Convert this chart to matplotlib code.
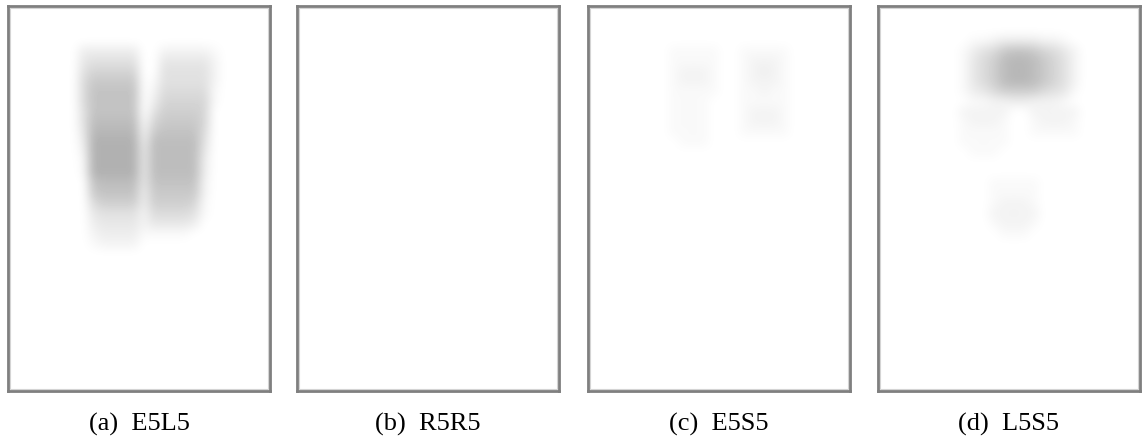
import numpy as np
import matplotlib.pyplot as plt
from matplotlib.patches import Rectangle

# Laws texture energy maps, one hex digit per block (0 = no energy, f = max)
# only the upper 26 block rows carry any energy, the rest of each panel is blank
E5L5 = [
    "00000000000000000000000000",
    "00000000000000000000000000",
    "00000000000000000000000000",
    "00000000000000000000000000",
    "0000000" + "333333" + "0" + "0222221" + "00000",
    "0000000" + "455555" + "0" + "0444442" + "00000",
    "0000000" + "577777" + "0" + "0555552" + "00000",
    "0000000" + "699999" + "0" + "1555552" + "00000",
    "0000000" + "6aaaaa" + "0" + "2666661" + "00000",
    "0000000" + "6aaaaa" + "0" + "3777771" + "00000",
    "0000000" + "5aaaaa" + "0" + "5888870" + "00000",
    "0000000" + "5bbbbb" + "1" + "7999970" + "00000",
    "0000000" + "4ccccc" + "2" + "9aaaa60" + "00000",
    "0000000" + "3ddddd" + "3" + "bbbbb50" + "00000",
    "0000000" + "2ddddd" + "4" + "bbbbb40" + "00000",
    "0000000" + "1ddddd" + "4" + "bbbbb30" + "00000",
    "0000000" + "1ddddd" + "4" + "bbbbb30" + "00000",
    "0000000" + "0abbbb" + "4" + "aaaaa20" + "00000",
    "0000000" + "09aaaa" + "3" + "9999920" + "00000",
    "0000000" + "068888" + "3" + "8888710" + "00000",
    "0000000" + "045555" + "2" + "6666510" + "00000",
    "0000000" + "034444" + "2" + "4444300" + "00000",
    "0000000" + "023333" + "1" + "1111000" + "00000",
    "0000000" + "012222" + "0" + "0000000" + "00000",
    "00000000000000000000000000",
    "00000000000000000000000000",
]

R5R5 = ["0" * 26 for _ in range(26)]

E5S5 = [
    "00000000000000000000000000",
    "00000000000000000000000000",
    "00000000000000000000000000",
    "00000000000000000000000000",
    "00000000" + "111110011111" + "000000",
    "00000000" + "111110012221" + "000000",
    "00000000" + "122210012321" + "000000",
    "00000000" + "122210012221" + "000000",
    "00000000" + "111110011211" + "000000",
    "00000000" + "111100011111" + "000000",
    "00000000" + "111100012221" + "000000",
    "00000000" + "111100012221" + "000000",
    "00000000" + "111100011111" + "000000",
    "00000000" + "011100000000" + "000000",
    "00000000000000000000000000",
    "00000000000000000000000000",
    "00000000000000000000000000",
    "00000000000000000000000000",
    "00000000000000000000000000",
    "00000000000000000000000000",
    "00000000000000000000000000",
    "00000000000000000000000000",
    "00000000000000000000000000",
    "00000000000000000000000000",
    "00000000000000000000000000",
    "00000000000000000000000000",
]

L5S5 = [
    "00000000000000000000000000",
    "00000000000000000000000000",
    "00000000000000000000000000",
    "00000000" + "011233332210" + "000000",
    "00000000" + "13569aa97642" + "000000",
    "00000000" + "1468bccb9752" + "000000",
    "00000000" + "1468bccb9752" + "000000",
    "00000000" + "1468bccb9752" + "000000",
    "00000000" + "134688886541" + "000000",
    "00000000" + "011223322210" + "000000",
    "00000000" + "222220022222" + "000000",
    "00000000" + "122210012221" + "000000",
    "00000000" + "111110011111" + "000000",
    "00000000" + "111110000000" + "000000",
    "00000000" + "011100000000" + "000000",
    "00000000000000000000000000",
    "00000000000000000000000000",
    "00000000" + "000111110000" + "000000",
    "00000000" + "000111110000" + "000000",
    "00000000" + "000122210000" + "000000",
    "00000000" + "000222220000" + "000000",
    "00000000" + "000122210000" + "000000",
    "00000000" + "000011100000" + "000000",
    "00000000000000000000000000",
    "00000000000000000000000000",
    "00000000000000000000000000",
]

maps = [E5L5, R5R5, E5S5, L5S5]
captions = ["(a)  E5L5", "(b)  R5R5", "(c)  E5S5", "(d)  L5S5"]

n_cols, n_rows = 26, 38
step = 6  # darkness per hex level (0-255 scale)

fig = plt.figure(figsize=(11.42, 4.39), dpi=100)
W, H = 1142, 439

lefts = [8, 297, 588, 878]
for left, grid, cap in zip(lefts, maps, captions):
    ax = fig.add_axes([left / W, (439 - 392) / H, 262 / W, 385 / H])
    energy = np.array([[int(ch, 16) for ch in row] for row in grid]) * step
    ax.imshow(energy, cmap='gray_r', vmin=0, vmax=255, interpolation='bicubic',
              extent=(0, n_cols, len(grid), 0), aspect='auto')
    ax.set_xlim(0, n_cols)
    ax.set_ylim(n_rows, 0)
    ax.set_xticks([])
    ax.set_yticks([])
    for s in ax.spines.values():
        s.set_color('#7f7f7f')
        s.set_linewidth(2.0)
    ax.add_patch(Rectangle((0.009, 0.006), 0.982, 0.988, transform=ax.transAxes,
                           fill=False, ec='#d4d4d4', lw=0.8))
    fig.text((left + 131) / W, (439 - 431) / H, cap, ha='center', va='baseline',
             fontsize=19, family='Liberation Serif')

fig.savefig('out.png', dpi=100)
